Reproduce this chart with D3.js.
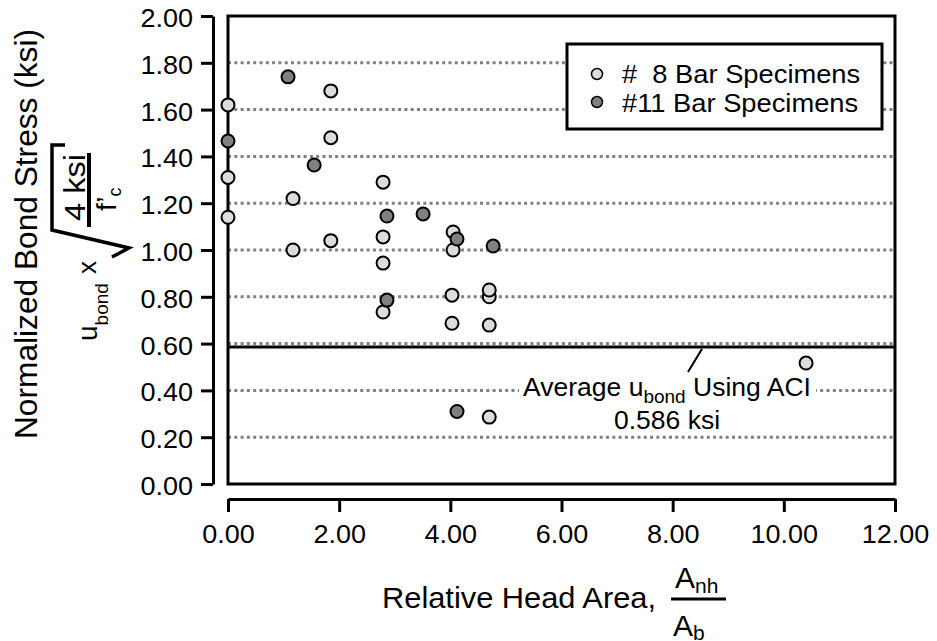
<!DOCTYPE html>
<html><head><meta charset="utf-8">
<script src="https://cdn.jsdelivr.net/npm/d3@7"></script>
<style>
body{margin:0;background:#fff;}
text{font-family:"Liberation Sans", Arial, Helvetica, sans-serif;fill:#000;}
</style>
</head><body>
<svg id="chart" width="937" height="641"></svg>
<script>
// ---- data ----
const bar8X = [0, 0, 0, 1.17, 1.17, 1.85, 1.85, 1.85, 2.79, 2.79, 2.79, 2.79, 4.05, 4.05, 4.03, 4.03, 4.70, 4.70, 4.70, 4.70, 10.4];
const bar8Y = [1.62, 1.31, 1.14, 1.22, 1.00, 1.68, 1.48, 1.04, 1.29, 1.056, 0.944, 0.735, 1.077, 1.00, 0.807, 0.687, 0.80, 0.829, 0.679, 0.286, 0.517];
const bar11X = [0, 1.08, 1.55, 2.86, 3.51, 2.86, 4.12, 4.77, 4.12];
const bar11Y = [1.466, 1.74, 1.363, 1.145, 1.154, 0.786, 1.047, 1.017, 0.31];
const xTicks = [0, 2, 4, 6, 8, 10, 12];
const yTicks = [0, 0.2, 0.4, 0.6, 0.8, 1.0, 1.2, 1.4, 1.6, 1.8, 2.0];
const gridValues = [0.2, 0.4, 0.6, 0.8, 1.0, 1.2, 1.4, 1.6, 1.8];
const aciAverage = 0.586;
const seriesNames = ["#  8 Bar Specimens", "#11 Bar Specimens"];
const seriesFill = ["#dcdcdc", "#808080"];

const svg = d3.select("#chart");
const x = d3.scaleLinear().domain([0, 12]).range([228, 895]);
const y = d3.scaleLinear().domain([0, 2]).range([484, 16]);

function stretch(sel, f) {
  sel.each(function () {
    const l = this.getComputedTextLength();
    d3.select(this).attr("textLength", l * f).attr("lengthAdjust", "spacingAndGlyphs");
  });
}
function fit(sel, len) { sel.attr("textLength", len).attr("lengthAdjust", "spacingAndGlyphs"); }

// gridlines
svg.append("g").selectAll("line").data(gridValues).join("line")
  .attr("x1", x(0)).attr("x2", x(12))
  .attr("y1", d => y(d)).attr("y2", d => y(d))
  .attr("stroke", "#808080").attr("stroke-width", 3).attr("stroke-dasharray", "3,3.3");

// plot frame
svg.append("rect").attr("x", x(0)).attr("y", y(2))
  .attr("width", x(12) - x(0)).attr("height", y(0) - y(2))
  .attr("fill", "none").attr("stroke", "#000").attr("stroke-width", 3);

// ACI average line
svg.append("line").attr("x1", x(0)).attr("x2", x(12))
  .attr("y1", y(aciAverage)).attr("y2", y(aciAverage))
  .attr("stroke", "#000").attr("stroke-width", 3);

// annotation
const ann = svg.append("g");
ann.append("rect").attr("x", 519).attr("y", 374).attr("width", 297).attr("height", 58).attr("fill", "#fff");
ann.append("line").attr("x1", 702).attr("y1", y(aciAverage) + 2).attr("x2", 688).attr("y2", 372)
  .attr("stroke", "#000").attr("stroke-width", 2);
const t1 = ann.append("text").attr("x", 667).attr("y", 396).attr("text-anchor", "middle").attr("font-size", 26.5);
t1.append("tspan").text("Average u");
t1.append("tspan").attr("font-size", 19).attr("dy", 7).text("bond");
t1.append("tspan").attr("dy", -7).text(" Using ACI");
ann.append("text").attr("x", 667).attr("y", 429).attr("text-anchor", "middle").attr("font-size", 26.5)
  .text(aciAverage.toFixed(3) + " ksi");

// points
const pts = svg.append("g");
pts.selectAll("circle.b8").data(bar8X.map((d, i) => [d, bar8Y[i]])).join("circle")
  .attr("class", "b8").attr("cx", d => x(d[0])).attr("cy", d => y(d[1])).attr("r", 6.5)
  .attr("fill", seriesFill[0]).attr("stroke", "#000").attr("stroke-width", 2);
pts.selectAll("circle.b11").data(bar11X.map((d, i) => [d, bar11Y[i]])).join("circle")
  .attr("class", "b11").attr("cx", d => x(d[0])).attr("cy", d => y(d[1])).attr("r", 6.5)
  .attr("fill", seriesFill[1]).attr("stroke", "#000").attr("stroke-width", 2);

// axes
const yAxis = svg.append("g").attr("transform", "translate(213,0)")
  .call(d3.axisLeft(y).tickValues(yTicks).tickFormat(d3.format(".2f")).tickSize(12).tickSizeOuter(0).tickPadding(8));
const xAxis = svg.append("g").attr("transform", "translate(0,499)")
  .call(d3.axisBottom(x).tickValues(xTicks).tickFormat(d3.format(".2f")).tickSize(13).tickSizeOuter(0).tickPadding(13));
[yAxis, xAxis].forEach(a => {
  a.attr("font-family", null).attr("font-size", null);
  a.selectAll("path, line").attr("stroke", "#000").attr("stroke-width", 3);
  a.selectAll("text").attr("font-size", 25);
});
yAxis.selectAll("text").attr("dy", "0.42em");
stretch(yAxis.selectAll("text"), 1.08);
stretch(xAxis.selectAll("text"), 1.08);

// legend
const lg = svg.append("g");
lg.append("rect").attr("x", 567).attr("y", 44).attr("width", 315).attr("height", 85)
  .attr("fill", "#fff").attr("stroke", "#000").attr("stroke-width", 3);
seriesNames.forEach((name, i) => {
  lg.append("circle").attr("cx", 597).attr("cy", 74 + i * 28).attr("r", 5.5)
    .attr("fill", seriesFill[i]).attr("stroke", "#000").attr("stroke-width", 1.5);
  lg.append("text").attr("x", 622).attr("y", 83 + i * 29).attr("font-size", 26.5)
    .style("white-space", "pre").text(name);
});
stretch(lg.selectAll("text"), 1.03);

// x title
fit(svg.append("text").attr("x", 382).attr("y", 608).attr("font-size", 29).text("Relative Head Area,"), 274);
svg.append("line").attr("x1", 671).attr("x2", 726).attr("y1", 599).attr("y2", 599).attr("stroke", "#000").attr("stroke-width", 3);
const num = svg.append("text").attr("x", 675).attr("y", 588).attr("font-size", 30);
num.append("tspan").text("A");
num.append("tspan").attr("font-size", 21).attr("dy", 5).text("nh");
const den = svg.append("text").attr("x", 673).attr("y", 636).attr("font-size", 30);
den.append("tspan").text("A");
den.append("tspan").attr("font-size", 21).attr("dy", 4).text("b");

// y title (rotated)
const yt = svg.append("g").attr("transform", "rotate(-90)");
fit(yt.append("text").attr("x", -234).attr("y", 37).attr("text-anchor", "middle").attr("font-size", 32)
  .text("Normalized Bond Stress (ksi)"), 410);
const u = yt.append("text").attr("x", -341).attr("y", 97).attr("font-size", 28);
u.append("tspan").text("u");
u.append("tspan").attr("font-size", 19).attr("dy", 11).text("bond");
yt.append("text").attr("x", -274).attr("y", 96).attr("font-size", 26).text("x");
fit(yt.append("text").attr("x", -187.5).attr("y", 85).attr("text-anchor", "middle").attr("font-size", 29).text("4 ksi"), 67);
const fc = yt.append("text").attr("x", -211).attr("y", 116).attr("font-size", 28);
fc.append("tspan").text("f’");
fc.append("tspan").attr("font-size", 18).attr("dy", 5).text("c");
svg.append("path").attr("d", "M65,145 L52,145 L52,230 L129,248 L112,257")
  .attr("fill", "none").attr("stroke", "#000").attr("stroke-width", 3.5);
svg.append("line").attr("x1", 89).attr("x2", 89).attr("y1", 153).attr("y2", 227).attr("stroke", "#000").attr("stroke-width", 4);
</script>
</body></html>
